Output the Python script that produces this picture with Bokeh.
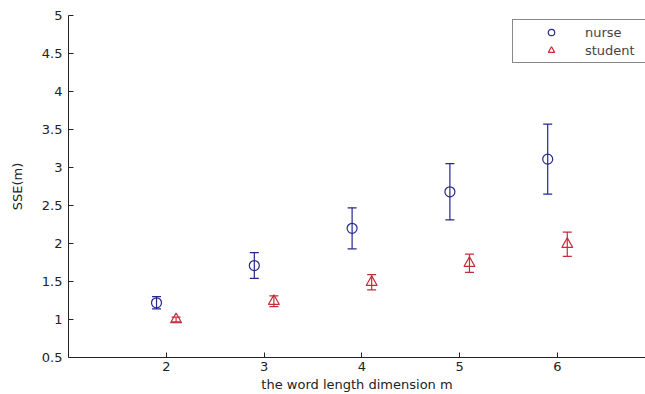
from bokeh.plotting import figure
from bokeh.models import ColumnDataSource, Whisker, TeeHead, FixedTicker, Range1d, Legend, LegendItem
from bokeh.embed import file_html
from bokeh.resources import INLINE

# data
m_nurse = [1.9, 2.9, 3.9, 4.9, 5.9]
sse_nurse = [1.22, 1.71, 2.20, 2.68, 3.11]
err_nurse = [0.08, 0.17, 0.27, 0.37, 0.46]

m_student = [2.1, 3.1, 4.1, 5.1, 6.1]
sse_student = [1.00, 1.24, 1.49, 1.74, 1.99]
err_student = [0.03, 0.07, 0.10, 0.12, 0.16]

x_ticks = [2, 3, 4, 5, 6]
y_ticks = [0.5, 1, 1.5, 2, 2.5, 3, 3.5, 4, 4.5, 5]

BLUE = "#26268f"
RED = "#c42c3a"
FONT = "DejaVu Sans"

src_n = ColumnDataSource(dict(x=m_nurse, y=sse_nurse,
                              lo=[v - e for v, e in zip(sse_nurse, err_nurse)],
                              hi=[v + e for v, e in zip(sse_nurse, err_nurse)]))
src_s = ColumnDataSource(dict(x=m_student, y=sse_student,
                              lo=[v - e for v, e in zip(sse_student, err_student)],
                              hi=[v + e for v, e in zip(sse_student, err_student)]))

p = figure(width=645, height=394, output_backend="svg", toolbar_location=None,
           x_range=Range1d(1, 6.9), y_range=Range1d(0.5, 5),
           min_border_left=68, min_border_right=0, min_border_top=15, min_border_bottom=36)
p.outline_line_color = None
p.xgrid.visible = False
p.ygrid.visible = False
p.background_fill_color = "white"
p.border_fill_color = "white"

for src, col in ((src_n, BLUE), (src_s, RED)):
    w = Whisker(base="x", upper="hi", lower="lo", source=src, line_color=col, line_width=1.2,
                upper_head=TeeHead(size=9, line_color=col, line_width=1.2),
                lower_head=TeeHead(size=9, line_color=col, line_width=1.2))
    p.add_layout(w)

r_n = p.scatter("x", "y", source=src_n, marker="circle", size=10, fill_color=None,
                line_color=BLUE, line_width=1.2)
r_s = p.scatter("x", "y", source=src_s, marker="triangle", size=11, fill_color=None,
                line_color=RED, line_width=1.2)

for ax in (p.xaxis[0], p.yaxis[0]):
    ax.major_tick_in = 5
    ax.major_tick_out = 0
    ax.minor_tick_line_color = None
    ax.axis_line_color = "#222222"
    ax.major_tick_line_color = "#222222"
    ax.major_label_text_font = FONT
    ax.major_label_text_font_size = "13px"
    ax.major_label_text_color = "#222222"
    ax.axis_label_text_font = FONT
    ax.axis_label_text_font_size = "13px"
    ax.axis_label_text_font_style = "normal"
    ax.axis_label_text_color = "#222222"

p.xaxis[0].ticker = FixedTicker(ticks=x_ticks)
p.yaxis[0].ticker = FixedTicker(ticks=y_ticks)
p.xaxis[0].axis_label = "the word length dimension m"
p.yaxis[0].axis_label = "SSE(m)"
p.xaxis[0].major_label_standoff = 4
p.xaxis[0].axis_label_standoff = 3
p.yaxis[0].major_label_standoff = 6
p.yaxis[0].axis_label_standoff = 14

legend = Legend(items=[LegendItem(label="nurse", renderers=[r_n]),
                       LegendItem(label="student", renderers=[r_s])],
                location=(444, 294), orientation="vertical",
                glyph_height=16, label_height=16, glyph_width=68, spacing=2,
                padding=4, margin=0, label_standoff=0, label_width=90,
                label_text_font=FONT, label_text_font_size="13px",
                border_line_color="#111111", border_line_width=1,
                background_fill_color="white", background_fill_alpha=1)
p.add_layout(legend)

open("out.html", "w").write(file_html(p, INLINE))
